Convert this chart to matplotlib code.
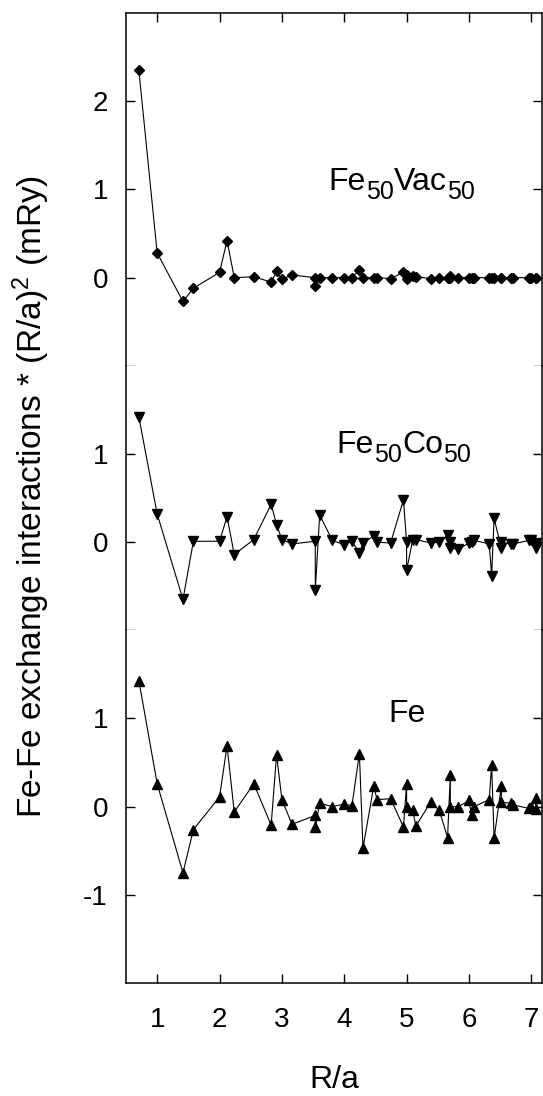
import matplotlib
matplotlib.use("Agg")
import matplotlib.pyplot as plt

# -----------------------------------
# Data
# -----------------------------------

# shell distances R/a (degenerate shells appear twice)
r_shells = [0.707, 1.0, 1.414, 1.581, 2.0, 2.121, 2.236, 2.550, 2.828, 2.915,
            3.0, 3.162, 3.536, 3.536, 3.606, 3.808, 4.0, 4.123, 4.243, 4.301,
            4.472, 4.528, 4.743, 4.950, 5.0, 5.0, 5.099, 5.148, 5.385, 5.523,
            5.657, 5.701, 5.701, 5.831, 6.0, 6.042, 6.083, 6.325, 6.364, 6.403,
            6.519, 6.519, 6.671, 6.708, 6.964, 7.0, 7.071, 7.071]

j_fevac = [2.35, 0.28, -0.27, -0.12, 0.06, 0.42, 0.0, 0.01, -0.05, 0.07,
           -0.02, 0.03, 0.0, -0.09, 0.0, 0.0, 0.0, 0.0, 0.09, 0.0,
           0.0, 0.0, -0.01, 0.06, 0.03, -0.02, 0.02, 0.01, -0.01, 0.0,
           0.0, 0.02, 0.0, 0.0, 0.0, 0.0, 0.0, 0.0, 0.0, 0.0,
           0.0, 0.0, 0.0, 0.0, 0.0, 0.0, 0.0, 0.0]

j_feco = [1.42, 0.32, -0.65, 0.01, 0.01, 0.29, -0.14, 0.03, 0.43, 0.20,
          0.03, -0.02, 0.01, -0.54, 0.31, 0.02, -0.03, 0.01, -0.12, -0.01,
          0.07, 0.0, -0.01, 0.48, 0.0, -0.32, 0.03, 0.03, -0.01, 0.0,
          0.08, 0.0, -0.07, -0.08, -0.01, 0.0, 0.02, -0.02, -0.38, 0.27,
          -0.07, 0.0, -0.02, -0.02, 0.02, 0.02, -0.01, -0.07]

j_fe = [1.43, 0.26, -0.75, -0.26, 0.11, 0.69, -0.06, 0.26, -0.21, 0.59,
        0.08, -0.20, -0.10, -0.23, 0.04, 0.0, 0.03, 0.01, 0.60, -0.47,
        0.23, 0.08, 0.09, -0.23, 0.26, 0.0, -0.04, -0.22, 0.05, -0.04,
        -0.35, 0.36, 0.0, 0.0, 0.07, -0.10, 0.0, 0.08, 0.47, -0.36,
        0.23, 0.05, 0.04, 0.02, -0.02, 0.0, 0.10, -0.03]

# panel labels as (text, is_subscript) pieces
panel_names = [[("Fe", False), ("50", True), ("Vac", False), ("50", True)],
               [("Fe", False), ("50", True), ("Co", False), ("50", True)],
               [("Fe", False)]]
name_pos = [(3.75, 0.91), (3.88, 0.93), (4.70, 0.88)]

# -----------------------------------
# Style
# -----------------------------------

plt.rcParams['font.family'] = ['Liberation Sans', 'DejaVu Sans']
plt.rcParams['mathtext.fontset'] = 'custom'
plt.rcParams['mathtext.rm'] = 'Liberation Sans'
plt.rcParams['mathtext.it'] = 'Liberation Sans:italic'
plt.rcParams['font.size'] = 20


def chained_label(ax, pos, pieces, size=23, sub_size=18):
    # gnuplot-style enhanced text: subscripts are only slightly smaller
    base = ax.text(pos[0], pos[1], pieces[0][0], fontsize=size,
                   ha='left', va='bottom')
    prev = base
    for txt, is_sub in pieces[1:]:
        if is_sub:
            prev = ax.annotate(txt, xy=(1, 0), xycoords=(prev, base),
                               xytext=(0, -1.3), textcoords='offset points',
                               fontsize=sub_size, ha='left', va='baseline')
        else:
            prev = ax.annotate(txt, xy=(1, 0), xycoords=(prev, base),
                               fontsize=size, ha='left', va='bottom')


fig = plt.figure(figsize=(5.43, 10.96), dpi=100)
gs = fig.add_gridspec(3, 1, height_ratios=[4, 3, 4], hspace=0,
                      left=0.232, right=0.998, top=0.988, bottom=0.1031)
ax_top = fig.add_subplot(gs[0])
ax_mid = fig.add_subplot(gs[1], sharex=ax_top)
ax_bot = fig.add_subplot(gs[2], sharex=ax_top)
axes = [ax_top, ax_mid, ax_bot]

series = [j_fevac, j_feco, j_fe]
markers = ['D', 'v', '^']
msizes = [4.6, 7, 7]
ylims = [(-1, 3), (-1, 2), (-2, 2)]
yticks = [[-1, 0, 1, 2], [-1, 0, 1], [-1, 0, 1]]
ylabels = [['', '0', '1', '2'], ['', '0', '1'], ['-1', '0', '1']]

for ax, y, m, ms, yl, yt, ytl in zip(axes, series, markers, msizes,
                                     ylims, yticks, ylabels):
    ax.plot(r_shells, y, color='black', linewidth=0.8, marker=m,
            markersize=ms, markerfacecolor='black', markeredgecolor='black')
    ax.set_ylim(*yl)
    ax.set_yticks(yt)
    ax.set_yticklabels(ytl)
    ax.tick_params(axis='y', direction='in', length=6.5, width=1.0,
                   left=True, right=True, pad=13, labelsize=20)
    for s in ax.spines.values():
        s.set_linewidth(1.1)

ax_top.set_xlim(0.5, 7.17)

for ax, pos, pieces in zip(axes, name_pos, panel_names):
    chained_label(ax, pos, pieces)

ax_top.spines['bottom'].set_visible(False)
ax_mid.spines['top'].set_visible(False)
ax_mid.spines['bottom'].set_visible(False)
ax_bot.spines['top'].set_visible(False)

ax_top.tick_params(axis='x', direction='in', length=6.5, width=1.0,
                   top=True, bottom=False, labelbottom=False)
ax_mid.tick_params(axis='x', top=False, bottom=False, labelbottom=False)
ax_bot.tick_params(axis='x', direction='in', length=6.5, width=1.0,
                   top=False, bottom=True, pad=17, labelsize=20)
ax_bot.set_xticks([1, 2, 3, 4, 5, 6, 7])

# axis titles
fig.text(334.5 / 543, 1 - 1088 / 1096, "R/a", ha='center', va='baseline',
         fontsize=23)
fig.text(52 / 543, 1 - 497 / 1096,
         "Fe-Fe exchange interactions * (R/a)$^{\\mathrm{2}}$ (mRy)",
         rotation=90, ha='right', va='center', fontsize=24)

fig.savefig("out.png", dpi=100)
